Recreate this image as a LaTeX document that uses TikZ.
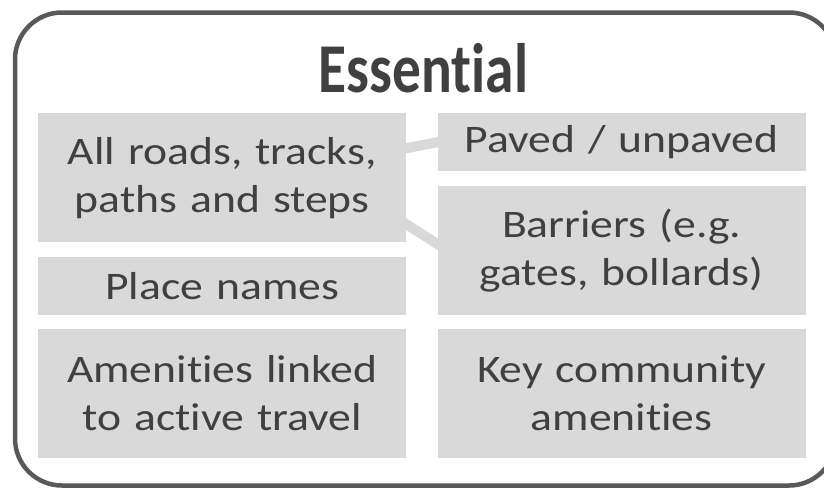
\documentclass[tikz,border=0pt]{standalone}
\usepackage{fontspec}
\setmainfont{Carlito}[FakeStretch=1.17, Ligatures=NoCommon]
\newfontfamily\headfont{Carlito}[FakeStretch=0.82, Ligatures=NoCommon]
\usetikzlibrary{positioning,calc,backgrounds}
\definecolor{boxgrey}{HTML}{D9D9D9}
\definecolor{textgrey}{HTML}{404040}
\definecolor{framegrey}{HTML}{595959}

\begin{document}
\begin{tikzpicture}[node distance=14pt]
    \tikzset{
        item/.style={fill=boxgrey, text=textgrey, text width=368pt, align=center, inner sep=0pt, font=\fontsize{39pt}{48pt}\selectfont},
        tall/.style={item, minimum height=129pt},
        short/.style={item, minimum height=58pt},
        link/.style={boxgrey, line width=10pt, shorten <=-6pt, shorten >=-6pt}
    }

        \clip (0,0) rectangle (824pt,-488pt);
        \draw[framegrey, line width=4.5pt, rounded corners=47pt] (15pt,-12.5pt) rectangle (836pt,-485.5pt);

        \node[text=textgrey, anchor=base, font=\headfont\bfseries\fontsize{70pt}{70pt}\selectfont] (title) at (423.5pt,-92pt) {Essential};

        % left column
        \node[tall, anchor=north west] (roads) at (38pt,-113pt) {All roads, tracks,\\paths and steps};
        \node[short] (place) [below=of roads] {Place names};
        \node[tall]  (amen)  [below=of place] {Amenities linked\\to active travel};

        % right column
        \node[short] (paved) [right=31pt of roads.north east, anchor=north west] {Paved / unpaved};
        \node[tall]  (barriers) [below=of paved] {Barriers (e.g.\\gates, bollards)};
        \node[tall]  (key) [below=of barriers] {Key community\\amenities};

        \begin{scope}[on background layer]
            \draw[link] ($(roads.east)+(0,29.5pt)$) -- (paved.west);
            \draw[link] ($(roads.east)+(0,-46.5pt)$) -- ($(barriers.west)+(0,6pt)$);
        \end{scope}

    \end{tikzpicture}
\end{document}
